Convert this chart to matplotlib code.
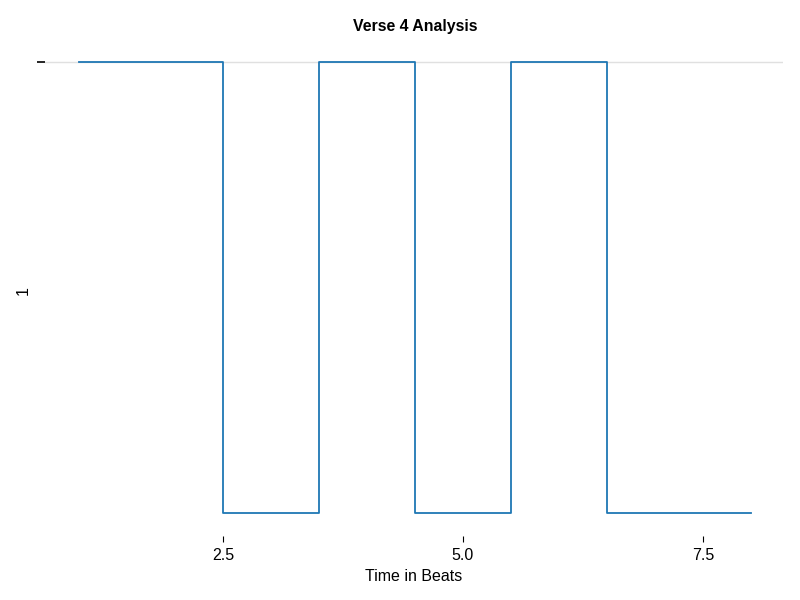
import matplotlib
matplotlib.use("Agg")
import matplotlib.pyplot as plt

beats = [1, 2, 3, 4, 5, 6, 7, 8]
values = [1, 1, 0, 1, 0, 1, 0, 0]
xticks = [2.5, 5.0, 7.5]
xtick_labels = ["2.5", "5.0", "7.5"]
yticks = [1]
ytick_labels = [""]

plt.rcParams['font.family'] = ['Liberation Sans', 'DejaVu Sans']

fig = plt.figure(figsize=(8, 6), dpi=100)
ax = fig.add_axes([45/800, 1 - 536/600, (783 - 45)/800, (536 - 45)/600])

ax.step(beats, values, where='mid', color='#1f77b4', linewidth=1.3)

x0 = 1 - (79 - 45)/96
ax.set_xlim(x0, x0 + (783 - 45)/96)
ax.set_ylim(-(536 - 513)/451, 1 + (62 - 45)/451)

ax.set_xticks(xticks)
ax.set_xticklabels(xtick_labels, fontsize=11.5)
ax.set_yticks(yticks)
ax.set_yticklabels(ytick_labels)

for s in ax.spines.values():
    s.set_visible(False)

ax.tick_params(axis='x', length=4, width=0.8, color='black', pad=5, direction='out')
ax.tick_params(axis='y', length=6, width=1.2, color='black', pad=2, direction='out')
ax.grid(axis='y', color='#e0e0e0', linewidth=1)
ax.set_axisbelow(True)

ax.set_xlabel("Time in Beats", fontsize=11.5, labelpad=4)
ax.set_ylabel("1", fontsize=11.5, labelpad=2)
fig.suptitle("Verse 4 Analysis", fontsize=11.4, fontweight='bold',
             x=415/800, y=1 - 27/600, va='center')

fig.savefig("out.png", dpi=100)
